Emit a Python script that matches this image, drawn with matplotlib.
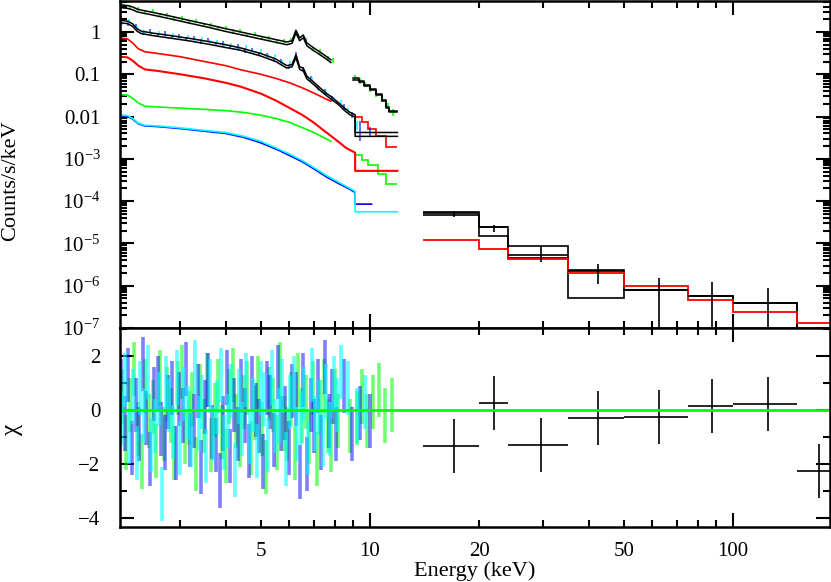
import matplotlib
matplotlib.use('Agg')
import matplotlib.pyplot as plt
import numpy as np
from matplotlib.ticker import FixedLocator, FuncFormatter, LogLocator, NullFormatter, MultipleLocator

plt.rcParams['font.family'] = ['Liberation Serif', 'DejaVu Serif']
plt.rcParams['mathtext.fontset'] = 'custom'
plt.rcParams['mathtext.rm'] = 'Liberation Serif'
plt.rcParams['font.size'] = 15

BLUE = '#0000ff'
CYAN = '#00ffff'
GREEN = '#00ff00'
RED = '#ff0000'

# ---- soft band models (keV, counts/s/keV) ----
e_mod_g = [2.05, 2.15, 2.22, 2.28, 2.34, 2.5, 2.8, 3.2, 3.6, 4.0, 4.5, 5.0, 5.5, 5.9, 6.1,
           6.25, 6.4, 6.55, 6.7, 7.0, 7.3, 7.6, 7.8]
mod_g1 = [4.4, 4.2, 3.9, 3.5, 3.3, 2.95, 2.4, 1.85, 1.48, 1.2, 0.96, 0.79, 0.66, 0.58, 0.62,
          1.1, 0.72, 0.85, 0.55, 0.42, 0.33, 0.26, 0.22]
mod_g2 = [3.8, 3.6, 3.35, 3.0, 2.85, 2.55, 2.07, 1.6, 1.28, 1.03, 0.83, 0.68, 0.57, 0.5, 0.54,
          0.95, 0.62, 0.73, 0.47, 0.36, 0.285, 0.225, 0.19]

e_mod_b = [2.05, 2.15, 2.22, 2.28, 2.34, 2.5, 2.8, 3.2, 3.6, 4.0, 4.4, 5.0, 5.5, 5.9, 6.1,
           6.25, 6.4, 6.55, 6.7, 7.0, 7.3, 7.6, 7.8, 8.2, 8.5, 8.8, 9.1, 9.1, 11.9]
mod_b1 = [1.9, 1.8, 1.55, 1.2, 1.05, 0.95, 0.83, 0.70, 0.59, 0.50, 0.42, 0.31, 0.23, 0.16, 0.17,
          0.29, 0.15, 0.14, 0.09, 0.065, 0.047, 0.035, 0.03, 0.021, 0.016, 0.0126, 0.011, 0.0042, 0.0042]
mod_b2 = [1.65, 1.57, 1.35, 1.05, 0.92, 0.83, 0.72, 0.61, 0.51, 0.43, 0.37, 0.27, 0.2, 0.14, 0.15,
          0.25, 0.13, 0.12, 0.078, 0.057, 0.041, 0.031, 0.026, 0.019, 0.014, 0.011, 0.0098, 0.0034, 0.0034]

e_g2_mod = [9.0, 9.3, 9.6, 10.0, 10.4, 10.8, 11.1, 11.3, 11.9]
mod_g2a = [0.08, 0.07, 0.057, 0.046, 0.034, 0.025, 0.017, 0.0135, 0.0135]
mod_g2b = [0.075, 0.065, 0.053, 0.043, 0.032, 0.023, 0.016, 0.0125, 0.0125]

# ---- model components ----
e_red_a = [2.05, 2.15, 2.22, 2.3, 2.4, 2.6, 3.0, 3.5, 4.0, 4.4, 5.0, 5.5, 6.0, 6.5, 7.0, 7.5, 7.8]
red_a = [0.72, 0.68, 0.55, 0.40, 0.34, 0.31, 0.26, 0.20, 0.16, 0.128, 0.1, 0.08, 0.063, 0.048,
         0.036, 0.027, 0.023]
red_a_tail_edges = [9.1, 9.5, 9.9, 10.4, 11.1, 11.9]
red_a_tail = [0.0096, 0.0075, 0.0052, 0.0035, 0.0019]

e_red_b = [2.05, 2.15, 2.22, 2.3, 2.4, 2.6, 3.0, 3.5, 4.0, 4.4, 5.0, 5.5, 6.0, 6.5, 7.0, 7.5, 7.8,
           8.2, 8.6, 9.1, 9.1, 11.9]
red_b = [0.26, 0.25, 0.21, 0.16, 0.13, 0.12, 0.10, 0.08, 0.063, 0.051, 0.035, 0.024, 0.016, 0.011,
         0.0072, 0.0045, 0.0035, 0.0025, 0.0018, 0.0014, 5.2e-4, 5.2e-4]

e_grn_c = [2.05, 2.15, 2.22, 2.3, 2.4, 3.0, 3.5, 4.0, 4.5, 5.0, 5.5, 6.0, 6.5, 7.0, 7.5, 7.8]
grn_c = [0.033, 0.032, 0.027, 0.021, 0.0175, 0.0158, 0.0148, 0.0138, 0.0125, 0.0108, 0.009,
         0.0073, 0.0055, 0.0042, 0.0031, 0.0026]
grn_c_tail_edges = [9.1, 9.5, 9.9, 10.5, 11.1, 11.9]
grn_c_tail = [1.2e-3, 9.5e-4, 7e-4, 4.5e-4, 2.5e-4]

e_cb_c = [2.05, 2.15, 2.22, 2.3, 2.4, 2.6, 3.0, 3.5, 4.0, 4.5, 5.0, 5.6, 6.0, 6.5, 7.1, 7.6, 8.2,
          8.8, 9.1, 9.1]
cyan_c = [0.0108, 0.0105, 0.009, 0.007, 0.0062, 0.006, 0.0054, 0.0047, 0.0042, 0.0034, 0.0026,
          0.0017, 0.0013, 0.00092, 0.00058, 0.0004, 0.00028, 0.0002, 0.00017, 5.6e-5]
cyan_c_end = 11.9
blue_c = [0.0105, 0.0102, 0.0087, 0.0068, 0.006, 0.0058, 0.0052, 0.0045, 0.004, 0.0032, 0.0024,
          0.0016, 0.0012, 0.00086, 0.00054, 0.00037, 0.00026, 0.00019, 0.00016, 8.5e-5]
blue_c_end = 10.1

# ---- soft band data (top panel) ----
e_green_top = [2.08, 2.18, 2.29, 2.40, 2.52, 2.64, 2.76, 2.89, 3.03, 3.17, 3.32, 3.48, 3.64, 3.82,
               4.00, 4.19, 4.39, 4.59, 4.81, 5.04, 5.28, 5.53, 5.79, 6.06, 6.35, 6.65, 6.97, 7.30,
               7.64, 7.90]
green_top = [4.6, 3.9, 3.6, 3.0, 3.1, 2.5, 2.5, 2.1, 2.1, 1.75, 1.8, 1.48, 1.5, 1.24, 1.25, 1.03,
             1.06, 0.87, 0.89, 0.73, 0.74, 0.60, 0.62, 0.66, 0.80, 0.64, 0.40, 0.35, 0.24, 0.21]
green_top_err = [0.5, 0.45, 0.4, 0.35, 0.35, 0.3, 0.3, 0.25, 0.25, 0.2, 0.2, 0.17, 0.17, 0.14,
                 0.14, 0.12, 0.12, 0.1, 0.1, 0.085, 0.085, 0.07, 0.07, 0.075, 0.09, 0.075, 0.05,
                 0.045, 0.035, 0.03]

e_blue_top = [2.06, 2.16, 2.26, 2.37, 2.48, 2.60, 2.72, 2.85, 2.98, 3.12, 3.27, 3.43, 3.59, 3.76,
              3.94, 4.12, 4.32, 4.52, 4.74, 4.96, 5.20, 5.44, 5.70, 5.97, 6.25, 6.55, 6.86, 7.18,
              7.52, 7.88, 8.5, 8.9, 9.4, 10.0]
blue_top = [2.1, 1.6, 1.4, 0.95, 1.05, 0.85, 0.93, 0.76, 0.82, 0.68, 0.72, 0.60, 0.64, 0.52, 0.54,
            0.45, 0.46, 0.37, 0.38, 0.30, 0.29, 0.22, 0.21, 0.15, 0.30, 0.13, 0.08, 0.049, 0.039,
            0.027, 0.017, 0.011, 0.0052, 0.0044]
blue_top_err = [0.25, 0.2, 0.17, 0.12, 0.12, 0.1, 0.11, 0.09, 0.1, 0.08, 0.085, 0.07, 0.075, 0.06,
                0.065, 0.055, 0.055, 0.045, 0.045, 0.036, 0.035, 0.027, 0.025, 0.018, 0.035, 0.016,
                0.01, 0.006, 0.005, 0.0035, 0.0025, 0.002, 0.0025, 0.0012]

e_cyan_top = [2.07, 2.17, 2.28, 2.38, 2.50, 2.62, 2.74, 2.87, 3.00, 3.15, 3.30, 3.45, 3.62, 3.79,
              3.97, 4.15, 4.35, 4.56, 4.77, 5.00, 5.24, 5.48, 5.74, 6.02, 6.30, 6.60, 6.91, 7.24,
              7.58, 7.94, 8.3, 8.7, 9.2]
cyan_top = [1.7, 1.85, 1.2, 1.0, 0.9, 0.95, 0.82, 0.84, 0.73, 0.76, 0.64, 0.67, 0.56, 0.59, 0.48,
            0.50, 0.41, 0.43, 0.34, 0.35, 0.27, 0.27, 0.19, 0.18, 0.24, 0.12, 0.075, 0.047, 0.037,
            0.025, 0.022, 0.014, 0.0062]
cyan_top_err = [0.2, 0.22, 0.15, 0.12, 0.11, 0.11, 0.1, 0.1, 0.09, 0.09, 0.08, 0.08, 0.07, 0.07,
                0.06, 0.06, 0.05, 0.05, 0.04, 0.04, 0.033, 0.033, 0.024, 0.022, 0.03, 0.015, 0.01,
                0.006, 0.005, 0.0035, 0.003, 0.002, 0.0015]

e_g2_top = [9.1, 9.4, 9.7, 10.0, 10.4, 10.8, 11.2, 11.6]
g2_top = [0.085, 0.07, 0.058, 0.045, 0.034, 0.026, 0.018, 0.013]
g2_top_err = [0.012, 0.01, 0.008, 0.007, 0.005, 0.004, 0.003, 0.0025]

# ---- hard band (BAT 8 channels) ----
bat_edges = [14, 20, 24, 35, 50, 75, 100, 150, 195]
bat_mod1 = [5.6e-5, 2.4e-5, 8.6e-6, 2.4e-6, 7.9e-7, 5.6e-7, 3.8e-7, 8e-8]
bat_mod2 = [4.7e-5, 1.5e-5, 4.6e-6, 5.0e-7, 7.9e-7, 5.6e-7, 3.8e-7, 8e-8]
bat_red = [1.2e-5, 7.3e-6, 4.2e-6, 2.0e-6, 9.8e-7, 4.6e-7, 2.4e-7, 1.3e-7]
bat_flux = [5.1e-5, 2.4e-5, 5.4e-6, 2.2e-6, 7.9e-7, 5.6e-7, 3.8e-7]
bat_err_lo = [0.8e-5, 0.5e-5, 1.8e-6, 1.1e-6, 7.89e-7, 5.59e-7, 3.79e-7]
bat_err_hi = [0.7e-5, 0.4e-5, 3.2e-6, 1.0e-6, 0.7e-6, 0.64e-6, 0.52e-6]
bat_chi = [-1.32, 0.27, -1.29, -0.3, -0.27, 0.15, 0.22, -2.24]

# ---- residuals (delchi) ----
e_blue = [2.06, 2.11, 2.16, 2.21, 2.26, 2.31, 2.37, 2.42, 2.48, 2.54,
          2.60, 2.66, 2.72, 2.78, 2.85, 2.92, 2.98, 3.05, 3.12, 3.20,
          3.27, 3.35, 3.43, 3.51, 3.59, 3.67, 3.76, 3.85, 3.94, 4.03,
          4.12, 4.22, 4.32, 4.42, 4.52, 4.63, 4.74, 4.85, 4.96, 5.08,
          5.20, 5.32, 5.44, 5.57, 5.70, 5.83, 5.97, 6.11, 6.25, 6.40,
          6.55, 6.70, 6.86, 7.02, 7.18, 7.35, 7.52, 7.70, 7.88, 8.06,
          8.5, 8.9, 9.4, 10.0]
chi_blue = [0.9, -0.5, 1.3, -1.4, 0.2, -0.9, 1.7, -0.3, -1.8, 0.6,
            1.0, -0.7, -1.2, 0.3, 0.8, -1.6, 0.4, -0.2, 1.5, -1.1,
            -0.4, 0.7, -2.1, 0.1, 1.1, -0.8, -1.3, -2.6, -0.5, 1.2,
            -1.7, 0.2, -0.9, 0.9, -0.2, -1.5, 1.0, 0.0, -0.6, -1.9,
            0.8, 0.3, -1.1, 1.4, -0.5, -0.1, -1.4, 0.7, 0.4, -2.3,
            1.1, -2.0, 0.2, -0.6, 0.9, -1.2, 1.6, -0.4, 0.5, -0.9,
            0.9, -0.9, -0.1, -0.4]
e_cyan = [2.07, 2.12, 2.17, 2.22, 2.28, 2.33, 2.38, 2.44, 2.50, 2.56,
          2.62, 2.68, 2.74, 2.80, 2.87, 2.94, 3.00, 3.07, 3.15, 3.22,
          3.30, 3.37, 3.45, 3.53, 3.62, 3.70, 3.79, 3.88, 3.97, 4.06,
          4.15, 4.25, 4.35, 4.45, 4.56, 4.66, 4.77, 4.88, 5.00, 5.12,
          5.24, 5.36, 5.48, 5.61, 5.74, 5.88, 6.02, 6.16, 6.30, 6.45,
          6.60, 6.75, 6.91, 7.07, 7.24, 7.41, 7.58, 7.76, 7.94, 8.12,
          8.3, 8.7, 9.2, 9.7]
chi_cyan = [-0.3, 1.1, -1.0, 0.5, -1.6, 0.8, -0.2, 1.4, -1.3, -0.6,
            0.4, -3.1, 1.0, 0.2, -0.8, 1.2, -1.4, 0.6, -0.1, -1.1,
            1.6, -0.5, 0.3, -1.7, 0.9, -0.9, 0.1, 1.3, -1.2, -0.4,
            0.7, -2.2, 0.5, -0.7, 1.1, -1.0, 0.2, -1.5, 0.8, 0.4,
            -1.3, 1.2, -0.6, -0.2, 0.9, -1.8, 0.3, 1.0, -0.9, -0.3,
            0.6, -1.4, 1.3, -0.5, 0.1, -1.1, 0.7, -0.7, 1.0, 0.2,
            1.4, 0.8, -0.2, 0.3]
e_green = [2.08, 2.13, 2.18, 2.24, 2.29, 2.35, 2.40, 2.46, 2.52, 2.58,
           2.64, 2.70, 2.76, 2.83, 2.89, 2.96, 3.03, 3.10, 3.17, 3.24,
           3.32, 3.40, 3.48, 3.56, 3.64, 3.73, 3.82, 3.91, 4.00, 4.09,
           4.19, 4.28, 4.39, 4.49, 4.59, 4.70, 4.81, 4.92, 5.04, 5.16,
           5.28, 5.40, 5.53, 5.66, 5.79, 5.92, 6.06, 6.20, 6.35, 6.50,
           6.65, 6.81, 6.97, 7.13, 7.30, 7.47, 7.64, 7.82, 8.00, 8.18,
           8.8, 9.2, 9.5, 9.8, 10.2, 10.6, 11.0, 11.5]
chi_green = [0.5, -1.2, 0.2, 1.5, -0.7, -1.9, 0.9, -0.4, 0.1, -1.5,
             1.2, -0.9, 0.6, -0.2, -1.6, 0.8, 1.4, -1.0, -0.3, 0.4,
             -2.0, 0.7, -0.6, 1.1, -1.3, 0.0, 0.9, -0.8, -1.7, 0.5,
             1.3, -0.4, -1.1, 0.3, 0.8, -1.4, -0.1, 1.0, -0.7, -2.1,
             0.6, 0.2, -1.2, 1.5, -0.5, -0.9, 0.4, -1.6, 1.1, -0.2,
             0.3, -1.0, 0.8, -1.8, 0.1, 0.9, -0.6, -1.3, 0.5, -0.4,
             -0.6, -0.3, 0.5, -0.4, 0.3, 0.75, -0.2, 0.2]


def style_axis(ax):
    for s in ax.spines.values():
        s.set_linewidth(1.8)
    ax.tick_params(which='both', direction='in', top=True, right=True, width=1.5, labelsize=15)
    ax.tick_params(which='major', length=10)
    ax.tick_params(which='minor', length=5)
    ax.tick_params(axis='y', which='both', pad=14)
    ax.set_xscale('log')
    ax.set_xlim(2.048, 185)
    ax.xaxis.set_major_locator(FixedLocator([10, 100]))
    ax.xaxis.set_minor_locator(FixedLocator([2, 3, 4, 5, 6, 7, 8, 9, 20, 30, 40, 50, 60, 70, 80, 90]))


fig = plt.figure(figsize=(8.31, 5.82), dpi=100)
ax1 = fig.add_axes([120 / 831, 1 - 328 / 582, 710 / 831, 327 / 582])
ax2 = fig.add_axes([120 / 831, 1 - 527 / 582, 710 / 831, 199 / 582], sharex=ax1)

# top panel: data
ax1.errorbar(e_green_top, green_top, yerr=green_top_err, fmt='none', ecolor=GREEN, elinewidth=1.6, alpha=0.75)
ax1.errorbar(e_g2_top, g2_top, yerr=g2_top_err, fmt='none', ecolor=GREEN, elinewidth=1.6, alpha=0.75)
ax1.errorbar(e_blue_top, blue_top, yerr=blue_top_err, fmt='none', ecolor=BLUE, elinewidth=1.4, alpha=0.6)
ax1.errorbar(e_cyan_top, cyan_top, yerr=cyan_top_err, fmt='none', ecolor=CYAN, elinewidth=1.4, alpha=0.75)

# top panel: models
ax1.plot(e_mod_g, mod_g1, color='k', lw=1.1)
ax1.plot(e_mod_g, mod_g2, color='k', lw=1.1)
ax1.plot(e_mod_b, mod_b1, color='k', lw=1.1)
ax1.plot(e_mod_b, mod_b2, color='k', lw=1.1)
ax1.plot(e_g2_mod, mod_g2a, color='k', lw=1.1, drawstyle='steps-post')
ax1.plot(e_g2_mod, mod_g2b, color='k', lw=1.1, drawstyle='steps-post')

# top panel: components
ax1.plot(e_red_a, red_a, color=RED, lw=1.2)
ax1.stairs(red_a_tail, red_a_tail_edges, baseline=None, color=RED, lw=1.2)
ax1.plot(e_red_b, red_b, color=RED, lw=1.5)
ax1.plot(e_grn_c, grn_c, color=GREEN, lw=1.2)
ax1.stairs(grn_c_tail, grn_c_tail_edges, baseline=None, color=GREEN, lw=1.2)
ax1.plot(e_cb_c + [blue_c_end], blue_c + [blue_c[-1]], color=BLUE, lw=1.2)
ax1.plot(e_cb_c + [cyan_c_end], cyan_c + [cyan_c[-1]], color=CYAN, lw=1.2)

# top panel: hard band
bat_lo = np.array(bat_edges[:-1])
bat_hi = np.array(bat_edges[1:])
bat_cen = (bat_lo + bat_hi) / 2
n = len(bat_flux)
ax1.errorbar(bat_cen[:n], bat_flux, xerr=[bat_cen[:n] - bat_lo[:n], bat_hi[:n] - bat_cen[:n]],
             yerr=[bat_err_lo, bat_err_hi], fmt='none', ecolor='k', elinewidth=1.2)
ax1.stairs(bat_mod1, bat_edges, baseline=None, color='k', lw=1.2)
ax1.stairs(bat_mod2, bat_edges, baseline=None, color='k', lw=1.2)
ax1.stairs(bat_red, bat_edges, baseline=None, color=RED, lw=1.3)

style_axis(ax1)
ax1.set_yscale('log')
ax1.set_ylim(1e-7, 5.4)
ax1.yaxis.set_major_locator(LogLocator(base=10, numticks=20))
ax1.yaxis.set_minor_locator(LogLocator(base=10, subs=np.arange(2, 10), numticks=20))


def ylab(v, pos):
    p = int(round(np.log10(v)))
    if p >= 0:
        return '1'
    if p == -1:
        return '0.1'
    if p == -2:
        return '0.01'
    return r'$\mathregular{10^{%d}}$' % p


ax1.yaxis.set_major_formatter(FuncFormatter(ylab))
ax1.yaxis.set_minor_formatter(NullFormatter())
ax1.tick_params(axis='x', which='both', labelbottom=False)
ax1.set_ylabel('Counts/s/keV', fontsize=16)
ax1.yaxis.set_label_coords(-0.141, 0.45)

# bottom panel: residuals
ax2.errorbar(e_green, chi_green, yerr=1.0, fmt='none', ecolor=GREEN, elinewidth=2.6, alpha=0.55)
ax2.errorbar(e_blue, chi_blue, yerr=1.0, fmt='none', ecolor=BLUE, elinewidth=2.6, alpha=0.5)
ax2.errorbar(e_cyan, chi_cyan, yerr=1.0, fmt='none', ecolor=CYAN, elinewidth=2.6, alpha=0.6)
ax2.errorbar(bat_cen, bat_chi, xerr=[bat_cen - bat_lo, bat_hi - bat_cen], yerr=1.0,
             fmt='none', ecolor='k', elinewidth=1.2)
ax2.axhline(0, color=GREEN, lw=2)

style_axis(ax2)
ax2.set_ylim(-4.32, 3.03)
ax2.yaxis.set_major_locator(MultipleLocator(2))
ax2.yaxis.set_minor_locator(MultipleLocator(1))
ax2.xaxis.set_major_formatter(FuncFormatter(lambda v, p: '%d' % round(v)))
ax2.xaxis.set_minor_formatter(FuncFormatter(lambda v, p: '%d' % round(v) if round(v) in (5, 20, 50) else ''))
ax2.tick_params(axis='x', which='both', pad=11)
ax2.set_xlabel('Energy (keV)', fontsize=16, labelpad=0)
ax2.set_ylabel('χ', fontsize=18)
ax2.yaxis.set_label_coords(-0.137, 0.49)

fig.savefig('out.png', dpi=100)
